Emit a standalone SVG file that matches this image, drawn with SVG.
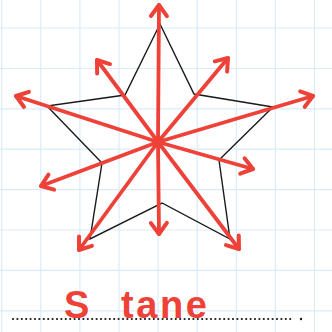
<svg xmlns="http://www.w3.org/2000/svg" width="332" height="332" viewBox="0 0 332 332">
<style>
.grid line{stroke:#d9ecf9;stroke-width:1.2}
.star{fill:none;stroke:#1a1a1a;stroke-width:1.4;stroke-linejoin:miter}
.arrow{stroke:#ee4137;stroke-width:3.8;stroke-linecap:round;fill:none}
.lbl{font-family:"Liberation Sans",sans-serif;font-weight:bold;fill:#ee4137;font-size:38px}
</style>
<defs>
<marker id="head" markerUnits="userSpaceOnUse" markerWidth="30" markerHeight="30" viewBox="-15 -15 30 30" refX="0" refY="0" orient="auto">
<path d="M-11,-8 L0,0 L-11,8" fill="none" stroke="#ee4137" stroke-width="4" stroke-linecap="round" stroke-linejoin="round"/>
</marker>
</defs>
<rect width="332" height="332" fill="#ffffff"/>
<g class="grid">
<line x1="1.7" y1="0" x2="1.7" y2="332"/>
<line x1="40.8" y1="0" x2="40.8" y2="332"/>
<line x1="79.9" y1="0" x2="79.9" y2="332"/>
<line x1="119" y1="0" x2="119" y2="332"/>
<line x1="158.1" y1="0" x2="158.1" y2="332"/>
<line x1="197.2" y1="0" x2="197.2" y2="332"/>
<line x1="236.3" y1="0" x2="236.3" y2="332"/>
<line x1="275.4" y1="0" x2="275.4" y2="332"/>
<line x1="314.5" y1="0" x2="314.5" y2="332"/>
<line x1="0" y1="28" x2="332" y2="28"/>
<line x1="0" y1="68.5" x2="332" y2="68.5"/>
<line x1="0" y1="108.8" x2="332" y2="108.8"/>
<line x1="0" y1="149.2" x2="332" y2="149.2"/>
<line x1="0" y1="189.6" x2="332" y2="189.6"/>
<line x1="0" y1="230" x2="332" y2="230"/>
<line x1="0" y1="270.4" x2="332" y2="270.4"/>
<line x1="0" y1="310.8" x2="332" y2="310.8"/>
</g>
<g id="star">
<polygon class="star" points="160,24 194,94 273,107 219,160 230,239 162,203 90,239 102,163 47,106 125,95"/>
</g>
<g id="connectors">
<line class="arrow" x1="158" y1="142" x2="159" y2="5" marker-end="url(#head)"/>
<line class="arrow" x1="158" y1="142" x2="228" y2="58" marker-end="url(#head)"/>
<line class="arrow" x1="158" y1="142" x2="313" y2="96" marker-end="url(#head)"/>
<line class="arrow" x1="158" y1="142" x2="253" y2="169" marker-end="url(#head)"/>
<line class="arrow" x1="158" y1="142" x2="239" y2="249" marker-end="url(#head)"/>
<line class="arrow" x1="158" y1="142" x2="159" y2="234" marker-end="url(#head)"/>
<line class="arrow" x1="158" y1="142" x2="79" y2="250" marker-end="url(#head)"/>
<line class="arrow" x1="158" y1="142" x2="41" y2="186" marker-end="url(#head)"/>
<line class="arrow" x1="158" y1="142" x2="16" y2="96" marker-end="url(#head)"/>
<line class="arrow" x1="158" y1="142" x2="97" y2="60" marker-end="url(#head)"/>
</g>
<g id="center">
<circle cx="158" cy="142" r="6" fill="#ee4137"/>
</g>
<g id="label">
<line x1="13" y1="319" x2="293" y2="319" stroke="#1a1a1a" stroke-width="2.2" stroke-linecap="round" stroke-dasharray="0 4.4"/>
<circle cx="301" cy="319" r="1.2" fill="#1a1a1a"/>
<text class="lbl" x="64" y="318">S</text>
<text class="lbl" x="121" y="318" textLength="86" lengthAdjust="spacing">tane</text>
</g>
</svg>
